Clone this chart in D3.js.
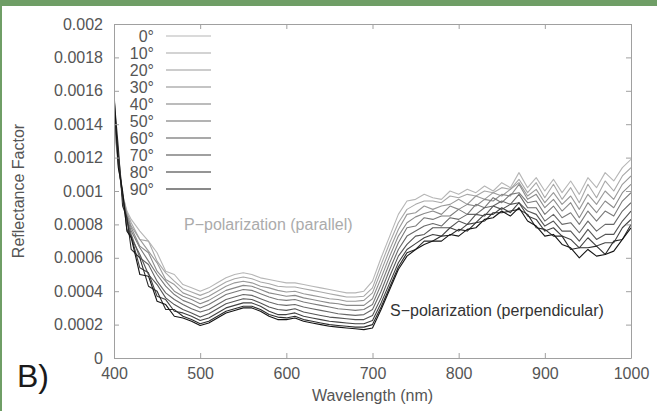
<!DOCTYPE html>
<html>
<head>
<meta charset="utf-8">
<script src="https://cdn.jsdelivr.net/npm/d3@7"></script>
<style>
  html, body { margin: 0; padding: 0; background: #fff; }
  text { font-family: "Liberation Sans", Arial, sans-serif; }
</style>
</head>
<body>
<svg class="reflectance-chart"></svg>
<script>
// wavelengths (nm)
var wavelengths = [
  400, 405, 410, 415, 420, 430, 440, 450, 460, 470,
  480, 490, 500, 510, 520, 530, 540, 550, 560, 570,
  580, 590, 600, 610, 620, 630, 640, 650, 660, 670,
  680, 690, 700, 710, 720, 730, 740, 750, 760, 770,
  780, 790, 800, 810, 820, 830, 840, 850, 860, 870,
  880, 890, 900, 910, 920, 930, 940, 950, 960, 970,
  980, 990, 1000
];

// reflectance factor per incidence angle, in units of 1e-4
var r0 = [
  14.0, 11.5, 9.8, 8.8, 8.3, 7.6, 7.0, 6.3, 5.2, 5.0,
  4.4, 4.2, 4.0, 4.2, 4.5, 4.8, 5.0, 5.1, 5.0, 4.8,
  4.7, 4.6, 4.5, 4.5, 4.4, 4.3, 4.2, 4.1, 4.0, 3.9,
  3.9, 4.0, 4.6, 6.0, 7.3, 8.6, 9.4, 9.5, 9.8, 9.6,
  9.5, 10.0, 9.8, 10.1, 9.9, 10.3, 10.0, 10.5, 10.2, 11.1,
  10.2, 10.8, 10.0, 10.7, 9.9, 10.6, 9.8, 10.8, 10.2, 11.1,
  10.6, 11.4, 11.9
];
var r10 = [
  14.2, 11.6, 9.8, 8.7, 8.1, 7.1, 7.0, 5.8, 5.1, 4.6,
  4.15, 3.95, 3.75, 3.95, 4.25, 4.55, 4.75, 4.85, 4.75, 4.55,
  4.45, 4.3, 4.25, 4.25, 4.15, 4.05, 3.95, 3.85, 3.75, 3.65,
  3.65, 3.7, 4.2, 5.6, 6.9, 8.1, 8.9, 9.2, 9.4, 9.4,
  9.3, 9.7, 9.6, 9.8, 9.7, 10.0, 9.9, 10.2, 10.1, 10.7,
  9.9, 10.5, 9.6, 10.4, 9.5, 10.2, 9.3, 10.4, 9.6, 10.6,
  10.0, 10.9, 11.4
];
var r20 = [
  14.4, 11.6, 9.7, 8.6, 7.9, 7.1, 6.4, 5.7, 4.7, 4.4,
  3.9, 3.7, 3.5, 3.7, 4.0, 4.3, 4.5, 4.6, 4.5, 4.3,
  4.2, 4.05, 3.95, 4.0, 3.85, 3.75, 3.65, 3.55, 3.5, 3.4,
  3.4, 3.45, 3.9, 5.2, 6.5, 7.7, 8.6, 8.7, 9.1, 8.9,
  9.1, 9.2, 9.5, 9.2, 9.7, 9.5, 9.9, 9.7, 10.1, 10.5,
  9.7, 10.1, 9.3, 9.9, 9.2, 9.7, 8.9, 9.8, 9.2, 10.0,
  9.5, 10.4, 10.9
];
var r30 = [
  14.5, 11.7, 9.6, 8.5, 7.8, 6.7, 6.3, 5.2, 4.6, 4.0,
  3.7, 3.5, 3.25, 3.45, 3.75, 4.05, 4.2, 4.35, 4.3, 4.1,
  3.9, 3.8, 3.7, 3.75, 3.6, 3.5, 3.4, 3.3, 3.25, 3.15,
  3.15, 3.15, 3.55, 4.8, 6.1, 7.3, 8.1, 8.45, 8.65, 8.8,
  8.6, 9.1, 8.9, 9.2, 9.1, 9.5, 9.4, 9.8, 9.7, 10.4,
  9.5, 9.8, 9.0, 9.5, 8.8, 9.3, 8.4, 9.3, 8.7, 9.4,
  9.0, 9.9, 10.4
];
var r40 = [
  14.7, 11.8, 9.7, 8.4, 7.6, 6.6, 5.8, 5.0, 4.3, 3.8,
  3.45, 3.25, 3.0, 3.2, 3.5, 3.8, 3.95, 4.1, 4.05, 3.85,
  3.65, 3.5, 3.45, 3.5, 3.35, 3.25, 3.15, 3.05, 2.95, 2.9,
  2.85, 2.9, 3.2, 4.4, 5.7, 6.9, 7.8, 7.9, 8.4, 8.3,
  8.5, 8.5, 8.9, 8.6, 9.2, 9.0, 9.6, 9.3, 9.8, 9.9,
  9.3, 9.4, 8.6, 9.1, 8.4, 8.7, 8.0, 8.8, 8.2, 8.8,
  8.5, 9.4, 9.9
];
var r50 = [
  14.9, 11.8, 9.6, 8.3, 7.4, 6.0, 5.6, 4.6, 3.9, 3.5,
  3.2, 2.95, 2.75, 2.9, 3.2, 3.5, 3.65, 3.8, 3.75, 3.55,
  3.35, 3.2, 3.15, 3.2, 3.05, 2.95, 2.85, 2.75, 2.65, 2.6,
  2.55, 2.6, 2.9, 4.0, 5.3, 6.5, 7.3, 7.6, 7.9, 8.05,
  7.9, 8.4, 8.3, 8.6, 8.6, 9.0, 9.1, 9.4, 9.2, 9.8,
  9.0, 9.0, 8.2, 8.6, 8.0, 8.1, 7.5, 8.2, 7.6, 8.0,
  8.0, 8.8, 9.3
];
var r60 = [
  15.1, 11.9, 9.6, 8.2, 7.2, 6.2, 5.0, 4.4, 3.6, 3.2,
  2.9, 2.7, 2.45, 2.65, 2.95, 3.25, 3.4, 3.55, 3.5, 3.3,
  3.05, 2.9, 2.85, 2.95, 2.75, 2.65, 2.55, 2.45, 2.4, 2.35,
  2.3, 2.3, 2.55, 3.6, 4.9, 6.1, 6.8, 7.3, 7.4, 7.8,
  7.8, 7.8, 8.2, 8.0, 8.6, 8.5, 9.1, 8.9, 9.2, 9.3,
  8.8, 8.6, 7.9, 8.2, 7.6, 7.6, 7.0, 7.7, 7.1, 7.4,
  7.4, 8.2, 8.8
];
var r70 = [
  15.0, 12.2, 9.8, 7.7, 7.3, 5.4, 5.1, 3.7, 3.5, 2.8,
  2.7, 2.5, 2.25, 2.4, 2.7, 3.0, 3.15, 3.3, 3.3, 3.1,
  2.8, 2.6, 2.6, 2.7, 2.5, 2.4, 2.3, 2.2, 2.15, 2.1,
  2.05, 2.05, 2.25, 3.3, 4.5, 5.7, 6.5, 6.85, 7.2, 7.4,
  7.3, 7.8, 7.6, 8.0, 8.1, 8.6, 8.6, 9.0, 8.7, 9.3,
  8.5, 8.3, 7.6, 7.8, 7.3, 7.1, 6.6, 7.2, 6.7, 6.9,
  6.9, 7.8, 8.3
];
var r80 = [
  15.6, 12.6, 9.1, 8.4, 6.5, 6.0, 4.3, 4.0, 2.9, 2.9,
  2.5, 2.3, 2.05, 2.2, 2.5, 2.8, 2.95, 3.1, 3.1, 2.9,
  2.6, 2.45, 2.4, 2.5, 2.3, 2.2, 2.1, 2.0, 1.95, 1.9,
  1.85, 1.85, 2.0, 3.05, 4.25, 5.45, 6.3, 6.5, 7.0, 7.0,
  7.3, 7.35, 7.7, 7.6, 8.1, 8.2, 8.7, 8.7, 8.8, 8.9,
  8.6, 7.8, 7.7, 7.3, 7.3, 6.5, 6.6, 6.6, 6.7, 6.2,
  7.0, 7.1, 8.0
];
var r90 = [
  15.9, 11.4, 10.0, 7.6, 7.2, 5.0, 4.9, 3.4, 3.2, 2.5,
  2.4, 2.2, 1.95, 2.1, 2.4, 2.7, 2.85, 3.0, 3.0, 2.8,
  2.5, 2.3, 2.3, 2.4, 2.2, 2.1, 2.0, 1.9, 1.85, 1.8,
  1.75, 1.7, 1.8, 2.9, 4.1, 5.3, 6.1, 6.5, 6.8, 7.0,
  7.0, 7.4, 7.3, 7.7, 7.8, 8.3, 8.4, 8.8, 8.5, 9.0,
  8.2, 7.9, 7.3, 7.4, 6.8, 6.6, 6.0, 6.5, 6.1, 6.2,
  6.4, 7.1, 7.8
];

var angleLabels = ["0°", "10°", "20°", "30°", "40°", "50°", "60°", "70°", "80°", "90°"];
var seriesValues = [r0, r10, r20, r30, r40, r50, r60, r70, r80, r90];

var xTicks = [400, 500, 600, 700, 800, 900, 1000];
var yTicks = [0, 0.0002, 0.0004, 0.0006, 0.0008, 0.001, 0.0012, 0.0014, 0.0016, 0.0018, 0.002];

var UNIT = 1e-4;

// light grey for 0 deg down to near black for 90 deg
var lineColors = ["#b6b6b6", "#a8a8a8", "#999999", "#8a8a8a", "#7a7a7a",
                  "#686868", "#555555", "#424242", "#2c2c2c", "#141414"];

var width = 657, height = 411;
var plotLeft = 114, plotRight = 631, plotTop = 24, plotBottom = 358;

var svg = d3.select(".reflectance-chart")
  .attr("width", width)
  .attr("height", height);

svg.append("rect").attr("width", width).attr("height", height).attr("fill", "#fff");

// green frame from the slide
svg.append("rect").attr("x", 0).attr("y", 0).attr("width", width).attr("height", 6).attr("fill", "#6f9e66");
svg.append("rect").attr("x", 0).attr("y", 0).attr("width", 2).attr("height", height).attr("fill", "#6f9e66");

var xScale = d3.scaleLinear().domain([400, 1000]).range([plotLeft, plotRight]);
var yScale = d3.scaleLinear().domain([0, 0.002]).range([plotBottom, plotTop]);

// build series table
var series = seriesValues.map(function(vals, i){
  return {
    label: angleLabels[i],
    color: lineColors[i],
    points: vals.map(function(v, j){ return {w: wavelengths[j], r: v * UNIT}; })
  };
});

var line = d3.line()
  .x(function(d){ return xScale(d.w); })
  .y(function(d){ return yScale(d.r); });

svg.append("clipPath").attr("id", "plot-clip")
  .append("rect")
    .attr("x", plotLeft).attr("y", plotTop)
    .attr("width", plotRight - plotLeft).attr("height", plotBottom - plotTop);

svg.append("g")
  .attr("clip-path", "url(#plot-clip)")
  .selectAll("path")
  .data(series)
  .enter()
  .append("path")
    .attr("d", function(d){ return line(d.points); })
    .attr("fill", "none")
    .attr("stroke", function(d){ return d.color; })
    .attr("stroke-width", 1.1)
    .attr("stroke-linejoin", "round");

//Axes (ticks point inward, mirrored on top and right)
var axisColor = "#a0a0a0";
var labelColor = "#555";

var gX = svg.append("g").attr("transform", "translate(0," + plotBottom + ")")
  .call(d3.axisBottom(xScale).tickValues(xTicks).tickSizeInner(-5).tickSizeOuter(0).tickPadding(10)
    .tickFormat(d3.format("d")));
var gXTop = svg.append("g").attr("transform", "translate(0," + plotTop + ")")
  .call(d3.axisTop(xScale).tickValues(xTicks).tickSizeInner(-5).tickSizeOuter(0).tickFormat(""));
var gY = svg.append("g").attr("transform", "translate(" + plotLeft + ",0)")
  .call(d3.axisLeft(yScale).tickValues(yTicks).tickSizeInner(-5).tickSizeOuter(0).tickPadding(11)
    .tickFormat(function(d){ return d === 0 ? "0" : String(d); }));
var gYRight = svg.append("g").attr("transform", "translate(" + plotRight + ",0)")
  .call(d3.axisRight(yScale).tickValues(yTicks).tickSizeInner(-5).tickSizeOuter(0).tickFormat(""));

[gX, gXTop, gY, gYRight].forEach(function(g){
  g.select(".domain").attr("stroke", axisColor);
  g.selectAll(".tick line").attr("stroke", axisColor);
  g.selectAll(".tick text")
    .attr("fill", labelColor)
    .style("font-size", "16px")
    .style("font-family", "'Liberation Sans', Arial, sans-serif");
});

// axis titles
svg.append("text")
  .attr("x", (plotLeft + plotRight) / 2)
  .attr("y", 401)
  .attr("text-anchor", "middle")
  .attr("fill", labelColor)
  .style("font-size", "16px")
  .text("Wavelength (nm)");

svg.append("text")
  .attr("transform", "translate(24," + ((plotTop + plotBottom) / 2) + ") rotate(-90)")
  .attr("text-anchor", "middle")
  .attr("fill", labelColor)
  .style("font-size", "16px")
  .text("Reflectance Factor");

// legend
var legend = svg.append("g");
var legendRows = legend.selectAll("g")
  .data(series)
  .enter()
  .append("g")
    .attr("transform", function(d, i){ return "translate(0," + (36 + i * 17) + ")"; });

legendRows.append("text")
  .attr("x", 154)
  .attr("dy", "0.35em")
  .attr("text-anchor", "end")
  .attr("fill", labelColor)
  .style("font-size", "16px")
  .text(function(d){ return d.label; });

legendRows.append("line")
  .attr("x1", 166).attr("x2", 211)
  .attr("y1", 0).attr("y2", 0)
  .attr("stroke", function(d){ return d.color; })
  .attr("stroke-width", 1.1);

// annotations
svg.append("text")
  .attr("x", 184).attr("y", 230)
  .attr("fill", "#ababab")
  .style("font-size", "16px")
  .text("P\u2212polarization (parallel)");

svg.append("text")
  .attr("x", 390).attr("y", 316)
  .attr("fill", "#333")
  .style("font-size", "16px")
  .text("S\u2212polarization (perpendicular)");

// panel letter
svg.append("text")
  .attr("x", 17).attr("y", 387)
  .attr("fill", "#1a1a1a")
  .style("font-size", "32px")
  .text("B)");
</script>
</body>
</html>
